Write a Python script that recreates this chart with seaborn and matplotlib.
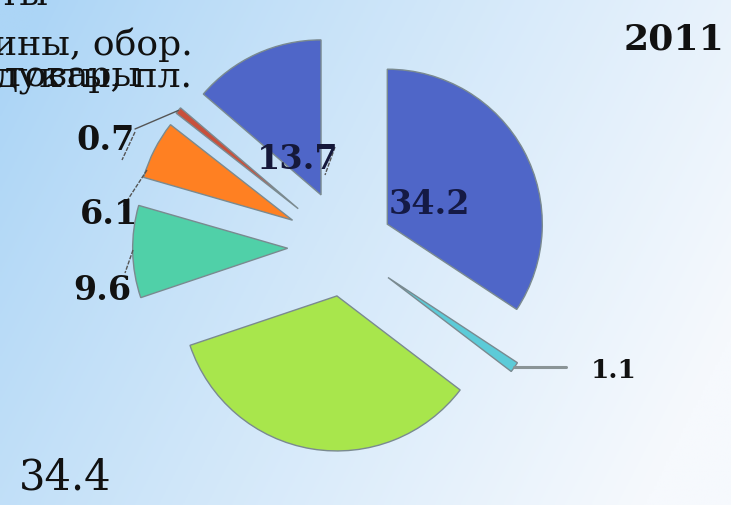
import numpy as np
import matplotlib
matplotlib.use("Agg")
import matplotlib.pyplot as plt
import seaborn as sns

# ---- data ----
values = [34.2, 1.1, 34.4, 9.6, 6.1, 0.7, 13.7]
value_labels = ["34.2", "1.1", "34.4", "9.6", "6.1", "0.7", "13.7"]
slice_colors = ["#4f66c8", "#5ccbd8", "#a8e64c", "#50d0a8", "#ff8022", "#c8503c", "#4f66c8"]
explode = [0.31, 0.34, 0.32, 0.37, 0.38, 0.39, 0.37]
year = "2011"
legend_lines = ["Минеральные продукты", "Машины, обор.", "Продов. товары", "Хим. продукты, пл."]

W, H = 731, 505
sns.set_theme(style="white")
plt.rcParams["font.family"] = ["DejaVu Serif", "DejaVu Sans"]

fig = plt.figure(figsize=(W / 100, H / 100), dpi=100)

# background gradient
bg = fig.add_axes([0, 0, 1, 1], zorder=0)
xx, yy = np.meshgrid(np.linspace(0, 1, 300), np.linspace(0, 1, 200))
t = np.clip(0.85 * xx + 0.30 * yy - 0.05, 0, 1) ** 0.9
c0 = np.array([172, 213, 246]) / 255
c1 = np.array([246, 249, 253]) / 255
img = c0[None, None, :] * (1 - t[..., None]) + c1[None, None, :] * t[..., None]
bg.imshow(img, extent=[0, 1, 0, 1], aspect="auto", origin="upper")
bg.set_axis_off()

# pie axes: 1 unit = R px, center at (cx, cy) px
R, cx, cy = 155.0, 345.0, 247.0
ax = fig.add_axes([0, 0, 1, 1], zorder=1)
ax.patch.set_alpha(0)
wedges, _ = ax.pie(values, colors=slice_colors, explode=explode, startangle=90,
                   counterclock=False, radius=1.0,
                   wedgeprops=dict(edgecolor="#7a8a90", linewidth=1.0))
ax.set_xlim(-cx / R, (W - cx) / R)
ax.set_ylim(-(H - cy) / R, cy / R)
ax.set_aspect("equal")
ax.set_axis_off()


def px(x, y):
    return x / W, 1 - y / H


# wedge outer tips for leaders
def tip(w, frac=1.0):
    ang = np.deg2rad((w.theta1 + w.theta2) / 2)
    x0, y0 = w.center
    return x0 + frac * w.r * np.cos(ang), y0 + frac * w.r * np.sin(ang)


tx, ty = tip(wedges[1])
ax.plot([tx, tx + 52 / R], [ty, ty], color="#8a9496", lw=2.2, zorder=3)
tx, ty = tip(wedges[5])
ax.plot([tx, (135 - cx) / R], [ty, (cy - 129) / R], color="#555555", lw=1.0, zorder=3)

leaders = [((135, 132), (122, 160)), ((147, 170), (123, 207)),
           ((133, 250), (125, 273)), ((335, 147), (325, 175))]
for (x1, y1), (x2, y2) in leaders:
    ax.plot([(x1 - cx) / R, (x2 - cx) / R], [(cy - y1) / R, (cy - y2) / R],
            color="#555555", lw=1.0, zorder=3, ls=(0, (3, 1)))

# value labels (positions px)
label_pos = {"34.2": (429, 205), "1.1": (614, 371), "34.4": (65, 477),
             "9.6": (102, 291), "6.1": (109, 215), "0.7": (106, 140), "13.7": (298, 159)}
label_size = {"1.1": 19, "34.4": 30}
label_color = {"34.2": "#151a45", "13.7": "#15183a"}
for lab in value_labels:
    x, y = label_pos[lab]
    fig.text(*px(x, y), lab, ha="center", va="center",
             fontsize=label_size.get(lab, 24),
             fontweight="normal" if lab == "34.4" else "bold",
             color=label_color.get(lab, "#111111"), zorder=5)

fig.text(*px(674, 39), year, ha="center", va="center", fontsize=26,
         fontweight="bold", color="#111111", zorder=5)

# clipped legend texts in the top-left corner
fig.text(*px(48, 5), legend_lines[0], ha="right", va="baseline", fontsize=26, color="#111111", zorder=5)
fig.text(*px(193, 55), legend_lines[1], ha="right", va="baseline", fontsize=26, color="#111111", zorder=5)
fig.text(*px(140, 86), legend_lines[2], ha="right", va="baseline", fontsize=26, color="#111111", zorder=5)
fig.text(*px(192, 86), legend_lines[3], ha="right", va="baseline", fontsize=26, color="#111111", zorder=5)

fig.savefig("out.png", dpi=100)
